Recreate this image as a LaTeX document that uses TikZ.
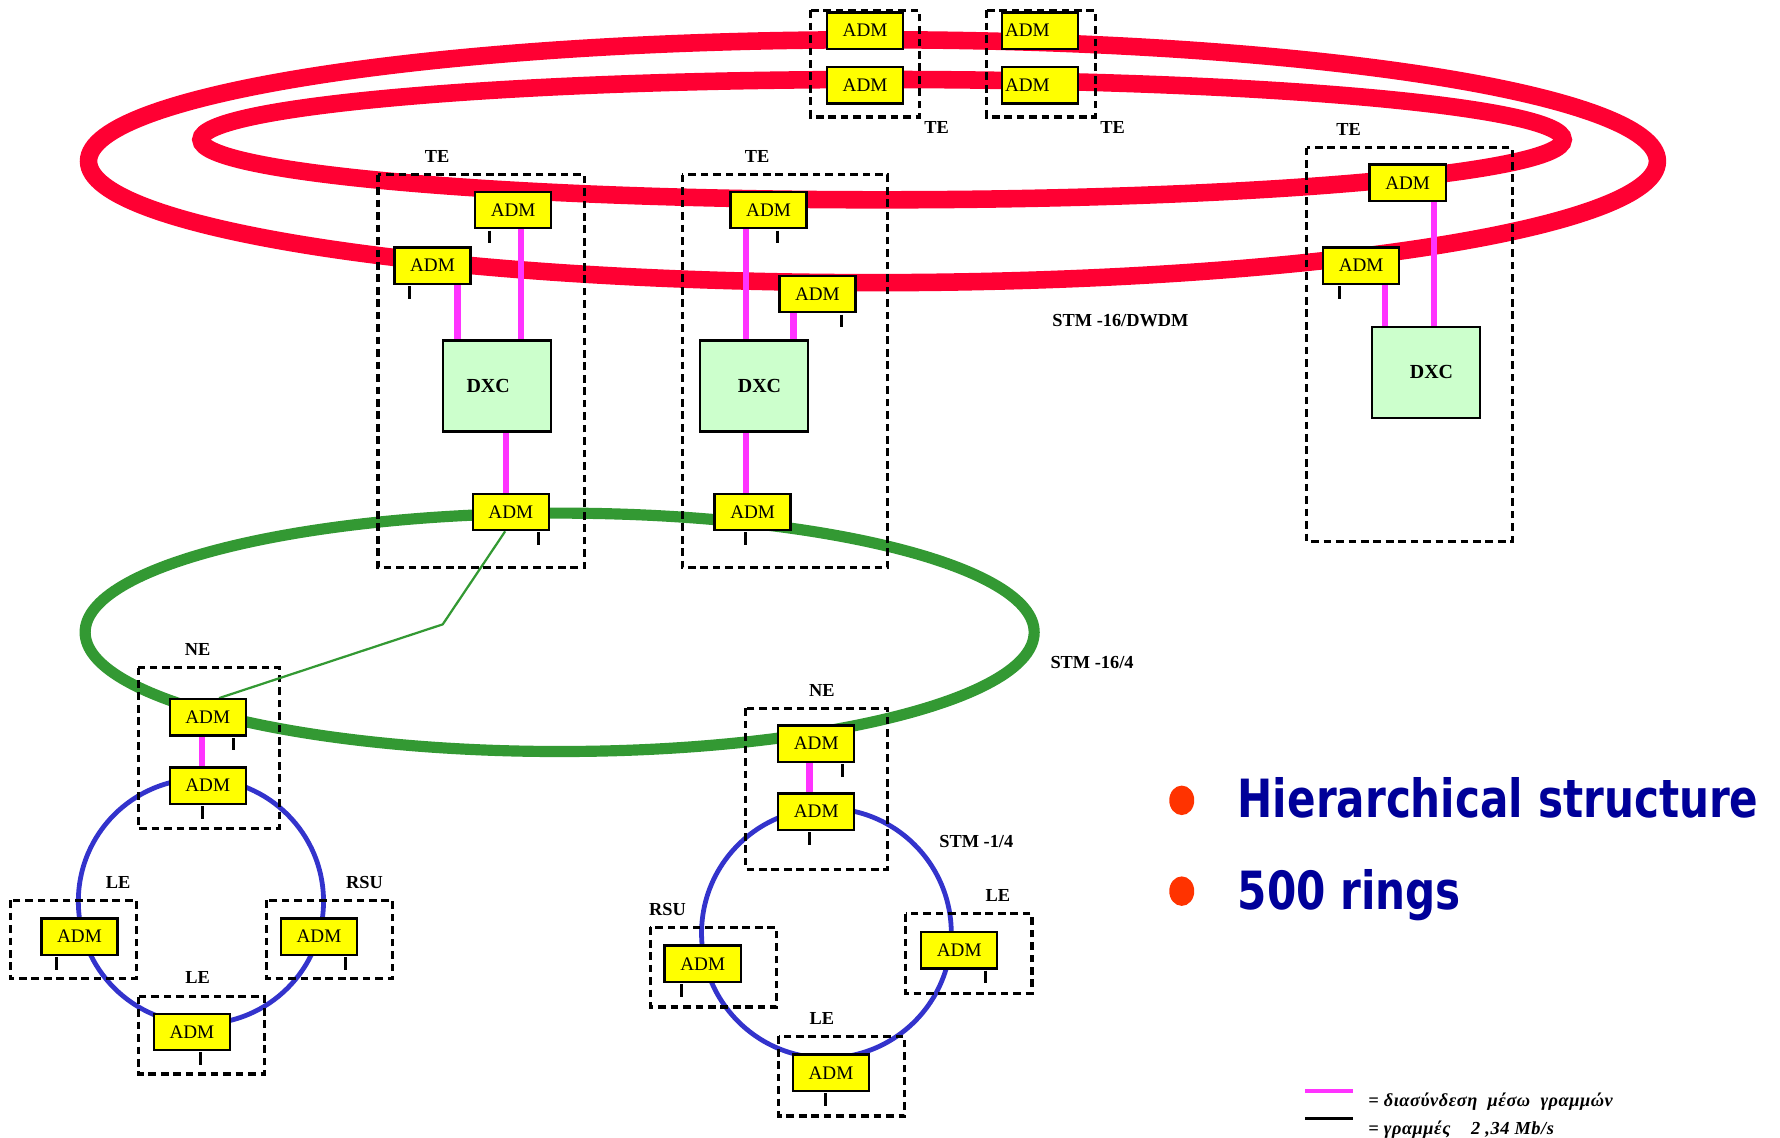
\documentclass[tikz,border=0pt]{standalone}
\usepackage{fontspec}
\setmainfont{Liberation Serif}
\newfontfamily\bigfont{DejaVu Sans}
\usetikzlibrary{calc}
\definecolor{ringred}{HTML}{FF0033}
\definecolor{ringgreen}{HTML}{339933}
\definecolor{ringblue}{HTML}{3333CC}
\definecolor{admyellow}{HTML}{FFFF00}
\definecolor{dxcgreen}{HTML}{CCFFCC}
\definecolor{magline}{HTML}{FF33FF}
\definecolor{dotred}{HTML}{FF3300}
\definecolor{navyblue}{HTML}{000099}
\pgfdeclarelayer{bg}
\pgfsetlayers{bg,main}
\newcommand\admtick[2]{\draw[tickl] ($(#1.south)+(#2,1)$) -- ++(0,11);}
\newcommand\magdown[3]{\coordinate (mtmp) at ($(#1.south)+(#2,0)$); \draw[magl] (mtmp) -- (mtmp |- #3.north);}
\begin{document}
\begin{tikzpicture}[x=0.025cm,y=-0.025cm,
  adm/.style={draw=black, line width=1.5pt, fill=admyellow, minimum width=1.675cm, minimum height=0.8cm, inner sep=0pt, font=\fontsize{12}{13}\selectfont},
  dxcbox/.style={draw=black, line width=1.5pt, fill=dxcgreen, minimum width=2.375cm, minimum height=2cm, inner sep=0pt, font=\bfseries\fontsize{12.5}{13}\selectfont},
  tebox/.style={draw=black, line width=2pt, dash pattern=on 4.8pt off 3pt},
  lbl/.style={font=\bfseries\fontsize{11.5}{13}\selectfont, inner sep=0pt},
  magl/.style={draw=magline, line width=3.9pt},
  tickl/.style={draw=black, line width=1.8pt},
  redring/.style={draw=ringred, line width=11pt},
  greenring/.style={draw=ringgreen, line width=7pt},
  bluering/.style={draw=ringblue, line width=3pt},
  bigtxt/.style={anchor=base west, inner sep=0pt, text=navyblue, font=\bigfont\bfseries\fontsize{33}{40}\selectfont},
  legtxt/.style={anchor=base west, inner sep=0pt, font=\bfseries\itshape\fontsize{11.5}{13}\selectfont\addfontfeature{LetterSpace=3}}
]
\useasboundingbox (0,0) rectangle (1568,1002);

% ---- top TE nodes
\node[adm] (t1) at (762,27) {ADM};
\node[adm] (t2) at (762,75) {ADM};
\node[adm] (t3) at (916,27) {ADM\kern0.55cm};
\node[adm] (t4) at (916,75) {ADM\kern0.55cm};
\node[lbl] (lt1) at (825,112) {TE};
\node[lbl] (lt2) at (980,112) {TE};

% ---- left TE
\node[adm] (A1) at (452,185) {ADM};
\node[adm] (A2) at (381,234) {ADM};
\node[dxcbox] (dxc1) at (438,340) {DXC\kern0.4cm};
\node[adm] (A3) at (450,451) {ADM};
\node[lbl] (lte1) at (385,138) {TE};

% ---- middle TE
\node[adm] (B1) at (677,185) {ADM};
\node[adm] (B2) at (720,259) {ADM};
\node[dxcbox] (dxc2) at (664,340) {\kern0.25cm DXC};
\node[adm] (B3) at (663,451) {ADM};
\node[lbl] (lte2) at (667,138) {TE};

% ---- right TE
\node[adm] (C1) at (1240,161) {ADM};
\node[adm] (C2) at (1199,234) {ADM};
\node[dxcbox] (dxc3) at (1256,328) {\kern0.25cm DXC};
\node[lbl] (lte3) at (1188,114) {TE};

\node[lbl] (stm1) at (987,282) {STM -16/DWDM};
\node[lbl] (stm2) at (962,584) {STM -16/4};
\node[lbl] (stm3) at (860,741) {STM -1/4};

% ---- left access ring
\node[adm] (D1) at (183,632) {ADM};
\node[adm] (D2) at (183,692) {ADM};
\node[lbl] (lne1) at (174,572) {NE};
\node[adm] (L1) at (70,825) {ADM};
\node[lbl] (lle1) at (104,777) {LE};
\node[adm] (L2) at (281,825) {ADM};
\node[lbl] (lrsu1) at (321,777) {RSU};
\node[adm] (L3) at (169,909) {ADM};
\node[lbl] (lle2) at (174,861) {LE};

% ---- right access ring
\node[adm] (E1) at (719,655) {ADM};
\node[adm] (E2) at (719,715) {ADM};
\node[lbl] (lne2) at (724,608) {NE};
\node[adm] (R1) at (619,849) {ADM};
\node[lbl] (lrsu2) at (588,801) {RSU};
\node[adm] (R2) at (845,837) {ADM};
\node[lbl] (lle3) at (879,789) {LE};
\node[adm] (R3) at (732,945) {ADM};
\node[lbl] (lle4) at (724,897) {LE};

% ---- bullets
\fill[dotred] (1041,705) ellipse [x radius=11, y radius=13];
\fill[dotred] (1041,785) ellipse [x radius=11, y radius=13];
\node[bigtxt] (h1) at (1090,720) {\scalebox{0.8}[1]{Hierarchical structure}};
\node[bigtxt] (h2) at (1090,801) {\scalebox{0.8}[1]{500 rings}};

% ---- legend
\coordinate (lg1a) at (1150,961); \coordinate (lg1b) at (1192,961);
\coordinate (lg2a) at (1150,985); \coordinate (lg2b) at (1192,985);
\draw[draw=magline, line width=2.8pt] (lg1a) -- (lg1b);
\draw[draw=black, line width=1.8pt] (lg2a) -- (lg2b);
\node[legtxt] (leg1) at (1205,975) {= διασύνδεση\ \ μέσω\ \ γραμμών};
\node[legtxt] (leg2) at (1205,999) {= γραμμές\ \ \ \ 2 ,34 Mb/s};

\begin{pgfonlayer}{bg}
  % rings
  \draw[redring] (769,142) ellipse [x radius=691, y radius=107];
  \draw[redring] (777,123) ellipse [x radius=600, y radius=53];
  \draw[greenring] (493,557) ellipse [x radius=418, y radius=105];
  \draw[bluering] (177,794) circle [radius=108];
  \draw[bluering] (728,822) circle [radius=110];
  % dashed site boxes
  \draw[tebox] (714,9) rectangle (810,103);
  \draw[tebox] (869,9) rectangle (965,103);
  \draw[tebox] (333,154) rectangle (515,500);
  \draw[tebox] (601,154) rectangle (782,500);
  \draw[tebox] (1151,130) rectangle (1332,477);
  \draw[tebox] (122,588) rectangle (246,730);
  \draw[tebox] (9,793) rectangle (120,862);
  \draw[tebox] (235,793) rectangle (346,862);
  \draw[tebox] (122,878) rectangle (233,946);
  \draw[tebox] (657,624) rectangle (782,766);
  \draw[tebox] (573,817) rectangle (684,887);
  \draw[tebox] (798,805) rectangle (909,875);
  \draw[tebox] (686,913) rectangle (797,983);
  % magenta interconnections
  \magdown{A2}{22}{dxc1}
  \magdown{A1}{7}{dxc1}
  \magdown{dxc1}{8}{A3}
  \magdown{B1}{-20}{dxc2}
  \magdown{B2}{-21}{dxc2}
  \magdown{dxc2}{-7}{B3}
  \magdown{C1}{23}{dxc3}
  \magdown{C2}{21}{dxc3}
  \magdown{D1}{-5}{D2}
  \magdown{E1}{-6}{E2}
  % thin green link
  \coordinate (gbend) at (390,550);
  \draw[draw=ringgreen, line width=1.4pt] ($(A3.south)+(-5,0)$) -- (gbend) -- ($(D1.north)+(10,0)$);
  % ticks
  \admtick{A1}{-21}
  \admtick{A2}{-20}
  \admtick{A3}{24}
  \admtick{B1}{8}
  \admtick{B2}{21}
  \admtick{B3}{-6}
  \admtick{C2}{-19}
  \admtick{D1}{23}
  \admtick{D2}{-5}
  \admtick{L1}{-20}
  \admtick{L2}{23}
  \admtick{L3}{8}
  \admtick{E1}{23}
  \admtick{E2}{-6}
  \admtick{R1}{-19}
  \admtick{R2}{23}
  \admtick{R3}{-5}
\end{pgfonlayer}
\end{tikzpicture}
\end{document}
